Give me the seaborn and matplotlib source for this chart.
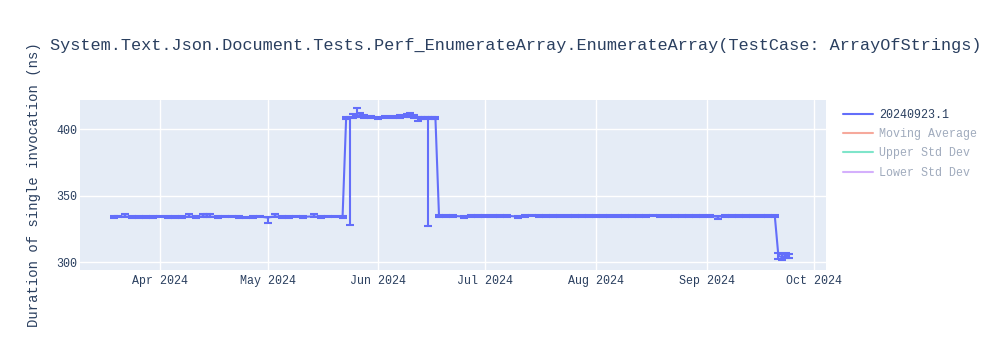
import matplotlib
matplotlib.use("Agg")
import matplotlib.pyplot as plt
import matplotlib.dates as mdates
from matplotlib.lines import Line2D
import numpy as np
import pandas as pd
import seaborn as sns

# ---------------- data ----------------
dates = [
    "2024-03-19", "2024-03-20", "2024-03-22", "2024-03-24", "2024-03-26", "2024-03-28", "2024-03-30",
    "2024-04-01", "2024-04-03", "2024-04-05", "2024-04-07", "2024-04-09", "2024-04-11", "2024-04-13",
    "2024-04-14", "2024-04-15", "2024-04-17", "2024-04-19", "2024-04-21", "2024-04-23", "2024-04-25",
    "2024-04-27", "2024-04-29", "2024-05-01", "2024-05-03", "2024-05-05", "2024-05-07", "2024-05-09",
    "2024-05-11", "2024-05-14", "2024-05-16", "2024-05-18", "2024-05-20", "2024-05-22",
    "2024-05-23", "2024-05-24", "2024-05-25", "2024-05-26", "2024-05-27", "2024-05-28", "2024-05-30",
    "2024-06-01", "2024-06-03", "2024-06-05", "2024-06-07", "2024-06-09", "2024-06-10", "2024-06-11",
    "2024-06-12", "2024-06-13", "2024-06-14", "2024-06-15", "2024-06-16", "2024-06-17",
    "2024-06-18", "2024-06-20", "2024-06-22", "2024-06-25", "2024-06-27", "2024-06-29", "2024-07-01",
    "2024-07-03", "2024-07-05", "2024-07-07", "2024-07-10", "2024-07-12", "2024-07-14", "2024-07-16",
    "2024-07-18", "2024-07-20", "2024-07-22", "2024-07-24", "2024-07-26", "2024-07-28", "2024-07-30",
    "2024-08-01", "2024-08-03", "2024-08-05", "2024-08-07", "2024-08-09", "2024-08-11", "2024-08-13",
    "2024-08-15", "2024-08-17", "2024-08-19", "2024-08-21", "2024-08-23", "2024-08-25", "2024-08-27",
    "2024-08-29", "2024-08-31", "2024-09-02", "2024-09-04", "2024-09-06", "2024-09-08", "2024-09-10",
    "2024-09-12", "2024-09-14", "2024-09-16", "2024-09-18", "2024-09-20",
    "2024-09-21", "2024-09-22", "2024-09-23", "2024-09-24",
]
values = [
    334.2, 334.3, 334.4, 334.2, 334.0, 334.1, 334.2,
    334.3, 334.2, 334.1, 334.0, 334.4, 334.2, 334.5,
    334.6, 334.3, 334.1, 334.4, 334.5, 334.0, 333.8,
    334.1, 334.3, 333.6, 334.5, 334.2, 334.1, 334.3,
    334.2, 334.5, 334.1, 334.3, 334.4, 334.0,
    408.0, 408.2, 409.5, 410.6, 410.0, 409.6, 408.8,
    408.6, 408.8, 409.2, 409.6, 409.9, 410.3, 409.6,
    408.4, 408.3, 408.2, 408.0, 408.1, 408.0,
    334.8, 334.9, 334.8, 334.4, 334.9, 335.0, 334.8,
    334.9, 335.0, 334.9, 334.4, 334.9, 335.1, 334.9,
    335.0, 334.8, 334.9, 335.0, 334.9, 334.8, 334.9,
    334.8, 334.9, 334.7, 334.9, 334.8, 334.7, 334.9,
    335.0, 335.2, 334.9, 334.8, 335.0, 334.9, 334.8,
    334.9, 334.7, 334.9, 334.2, 334.9, 334.8, 334.9,
    335.0, 334.9, 334.9, 335.0, 334.8,
    305.0, 303.8, 305.2, 304.6,
]
err_minus = [
    0.6, 0.6, 0.6, 0.6, 0.6, 0.6, 0.6,
    0.6, 0.6, 0.6, 0.6, 0.6, 0.6, 0.6,
    0.6, 0.6, 0.6, 0.6, 0.6, 0.6, 0.6,
    0.6, 0.6, 4.2, 0.6, 0.6, 0.6, 0.6,
    0.6, 0.6, 0.6, 0.6, 0.6, 0.6,
    0.8, 80.5, 1.2, 1.5, 1.2, 1.0, 0.8,
    0.8, 0.8, 0.8, 1.0, 1.2, 1.5, 1.0,
    2.2, 1.0, 0.8, 81.0, 0.8, 0.8,
    0.6, 0.6, 0.6, 1.2, 0.6, 0.6, 0.6,
    0.6, 0.6, 0.6, 1.0, 0.6, 0.6, 0.6,
    0.6, 0.6, 0.6, 0.6, 0.6, 0.6, 0.6,
    0.6, 0.6, 0.6, 0.6, 0.6, 0.6, 0.6,
    0.6, 0.6, 0.6, 0.6, 0.6, 0.6, 0.6,
    0.6, 0.6, 0.6, 2.0, 0.6, 0.6, 0.6,
    0.6, 0.6, 0.6, 0.6, 0.6,
    2.5, 2.0, 2.0, 1.5,
]
err_plus = [
    0.6, 0.6, 2.0, 0.6, 0.6, 0.6, 0.6,
    0.6, 0.6, 0.6, 0.6, 2.0, 0.6, 1.8,
    1.8, 1.8, 0.6, 0.6, 0.6, 0.6, 0.6,
    0.6, 0.6, 0.8, 1.8, 0.6, 0.6, 0.6,
    0.6, 1.5, 0.6, 0.6, 0.6, 0.6,
    0.8, 1.0, 1.5, 5.2, 2.0, 1.2, 0.8,
    0.8, 0.8, 0.8, 1.2, 1.5, 1.8, 1.0,
    0.8, 0.8, 0.8, 0.8, 0.8, 0.8,
    0.6, 0.6, 0.6, 0.6, 0.6, 0.6, 0.6,
    0.6, 0.6, 0.6, 0.6, 0.6, 0.6, 0.6,
    0.6, 0.6, 0.6, 0.6, 0.6, 0.6, 0.6,
    0.6, 0.6, 0.6, 0.6, 0.6, 0.6, 0.6,
    0.6, 0.6, 0.6, 0.6, 0.6, 0.6, 0.6,
    0.6, 0.6, 0.6, 0.6, 0.6, 0.6, 0.6,
    0.6, 0.6, 0.6, 0.6, 0.6,
    2.0, 2.2, 2.0, 1.5,
]

series_name = "20240923.1"
legend_labels = ["20240923.1", "Moving Average", "Upper Std Dev", "Lower Std Dev"]
title = "System.Text.Json.Document.Tests.Perf_EnumerateArray.EnumerateArray(TestCase: ArrayOfStrings)"
ylabel = "Duration of single invocation (ns)"

# ---------------- style ----------------
sns.set_theme(style="darkgrid")
plt.rcParams["font.family"] = ["Liberation Mono", "DejaVu Sans Mono"]
text_col = "#2a3f5f"
main_col = "#636EFA"

df = pd.DataFrame({"date": pd.to_datetime(dates), "value": values})

fig = plt.figure(figsize=(10, 3.5), dpi=100)
ax = fig.add_axes([0.080, 0.229, 0.746, 0.485])
ax.set_facecolor("#E5ECF6")
fig.patch.set_facecolor("white")

sns.lineplot(data=df, x="date", y="value", ax=ax, color=main_col, linewidth=1.5,
             legend=False, zorder=3)
ax.errorbar(df["date"], df["value"], yerr=[err_minus, err_plus], fmt="none",
            ecolor=main_col, elinewidth=1.5, capsize=2.8, capthick=1.5, zorder=3)

ax.set_xlim(pd.Timestamp("2024-03-09 12:00"), pd.Timestamp("2024-10-04 08:00"))
ax.set_ylim(294.4, 421.7)
ax.set_yticks([300, 350, 400])
ax.xaxis.set_major_locator(mdates.MonthLocator(bymonth=range(4, 11)))
ax.xaxis.set_major_formatter(mdates.DateFormatter("%b %Y"))
ax.grid(True, color="white", linewidth=1)
for s in ax.spines.values():
    s.set_visible(False)
ax.tick_params(axis="both", labelsize=8.4, colors=text_col, length=0)
ax.tick_params(axis="x", pad=4)
ax.tick_params(axis="y", pad=2)
ax.set_xlabel("")
ax.set_ylabel(ylabel, fontsize=10, color=text_col)
ax.yaxis.set_label_coords(-0.052, 0.5)

fig.text(0.05, 0.869, title, fontsize=12.2, color=text_col, ha="left", va="center")

handles = [
    Line2D([], [], color=main_col, linewidth=1.5),
    Line2D([], [], color="#EF553B", alpha=0.5, linewidth=1.5),
    Line2D([], [], color="#00CC96", alpha=0.5, linewidth=1.5),
    Line2D([], [], color="#AB63FA", alpha=0.5, linewidth=1.5),
]
fig.legend(handles, legend_labels, loc="upper left", bbox_to_anchor=(0.838, 0.703),
           frameon=False, fontsize=8.4, handlelength=2.6, handletextpad=0.5,
           labelspacing=0.63, borderaxespad=0,
           labelcolor=[text_col, "#a0abbd", "#a0abbd", "#a0abbd"])

fig.savefig("out.png", dpi=100)
